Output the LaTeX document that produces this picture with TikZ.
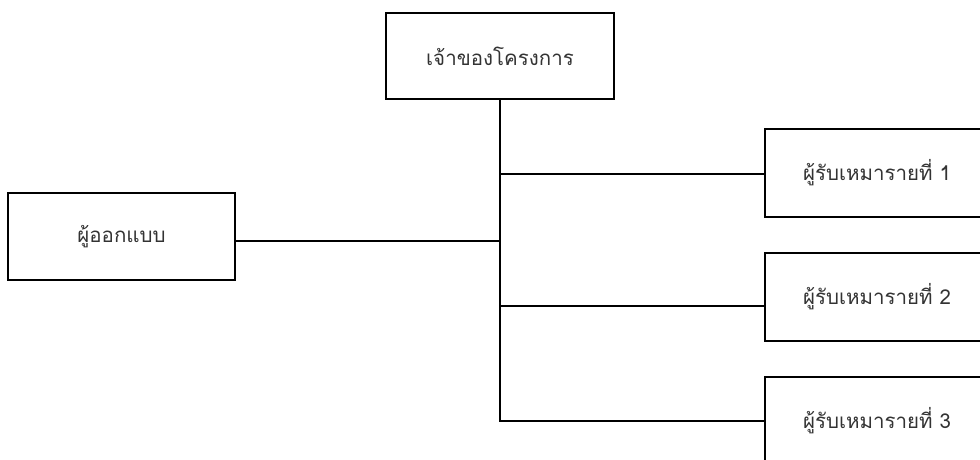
\documentclass[tikz,border=0pt]{standalone}
\usepackage{fontspec}
\newfontfamily\thaifont[Script=Thai]{Loma}
\begin{document}
\begin{tikzpicture}[x=1pt,y=-1pt,
  box/.style={draw=black,line width=2pt,fill=white,inner sep=0pt,
    font=\thaifont\fontsize{20.5}{24}\selectfont,text=black!80},
  link/.style={draw=black,line width=2pt}]
\useasboundingbox (0,0) rectangle (980,459);
\clip (0,0) rectangle (980,459);
\fill[white] (0,0) rectangle (980,459);
\node[box,minimum width=228pt,minimum height=86pt] (top) at (500,56) {เจ้าของโครงการ};
\node[box,minimum width=227pt,minimum height=87pt] (des) at (121.5,236.5) {ผู้ออกแบบ};
\node[box,minimum width=224pt,minimum height=88pt] (c1) at (877,173) {ผู้รับเหมารายที่ 1};
\node[box,minimum width=224pt,minimum height=88pt] (c2) at (877,297) {ผู้รับเหมารายที่ 2};
\node[box,minimum width=224pt,minimum height=88pt] (c3) at (877,421) {ผู้รับเหมารายที่ 3};
\coordinate (j0) at (500,241);
\coordinate (j1) at (500,174);
\coordinate (j2) at (500,306);
\coordinate (j3) at (500,421);
\draw[link] (top.south) -- (j3) -- (j3 -| c3.west);
\draw[link] (j1) -- (j1 -| c1.west);
\draw[link] (j2) -- (j2 -| c2.west);
\draw[link] (j0) -- (j0 -| des.east);
\end{tikzpicture}
\end{document}
